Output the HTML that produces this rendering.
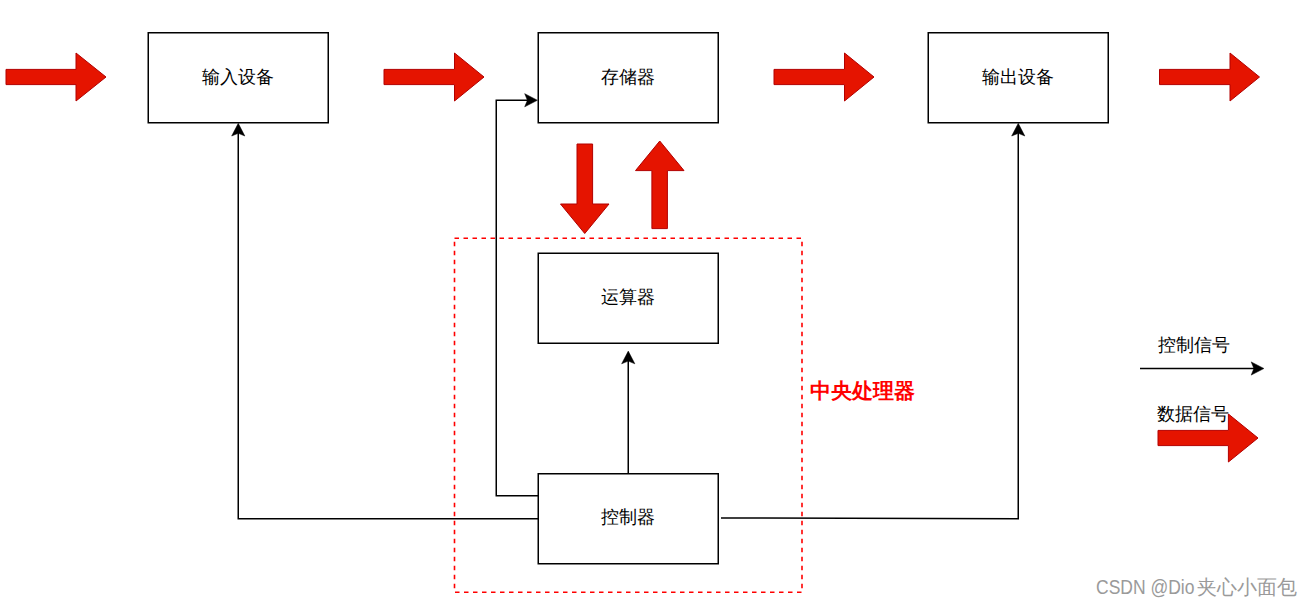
<!DOCTYPE html>
<html><head><meta charset="utf-8"><style>
html,body{margin:0;padding:0;background:#fff;}
body{width:1312px;height:606px;position:relative;overflow:hidden;font-family:"Liberation Sans",sans-serif;}
svg.ov{position:absolute;left:0;top:0;}
.t{position:absolute;width:300px;height:30px;line-height:30px;text-align:center;font-size:18px;color:#000;white-space:nowrap;}
.wm{position:absolute;white-space:nowrap;color:#9a9a9a;height:26px;}
.wl{display:inline-block;font-size:20px;line-height:26px;transform:scaleX(0.875);transform-origin:0 50%;width:101px;}
.wc{display:inline-block;font-size:20px;line-height:26px;}
.lab{position:absolute;font-size:18px;line-height:20px;white-space:nowrap;}
</style></head><body>
<svg class="ov" width="1312" height="606" viewBox="0 0 1312 606">
<g fill="#E51400" stroke="#B20000" stroke-width="1">
<polygon points="6,69.4 76,69.4 76,53 106,77.0 76,101 76,84.6 6,84.6" />
<polygon points="384,69.4 454.5,69.4 454.5,53 484,77.0 454.5,101 454.5,84.6 384,84.6" />
<polygon points="774,69.4 844.5,69.4 844.5,53 874,77.0 844.5,101 844.5,84.6 774,84.6" />
<polygon points="1159.5,69.4 1230,69.4 1230,53 1259.5,77.0 1230,101 1230,84.6 1159.5,84.6" />
</g>
<g fill="#fff" stroke="#000" stroke-width="1.5">
<rect x="148.25" y="32.75" width="180" height="90" />
<rect x="538.25" y="32.75" width="180" height="90" />
<rect x="928.25" y="32.75" width="180" height="90" />
<rect x="538.25" y="253.25" width="180" height="90" />
<rect x="538.25" y="473.75" width="180" height="90" />
</g>
<rect x="454.5" y="238.25" width="347.5" height="354" fill="none" stroke="#FF0000" stroke-width="1.6" stroke-dasharray="4.5 4.5" />
<g fill="none" stroke="#000" stroke-width="1.5">
<polyline points="538,518.75 238.25,518.75 238.25,133" />
<polyline points="538,495.85 496.25,495.85 496.25,100.25 528,100.25" />
<polyline points="628.25,473.5 628.25,361" />
<polyline points="721,518 1018.25,518.75 1018.25,133" />
<polyline points="1140,368.5 1254,368.5" />
</g>
<g fill="#000" stroke="#000" stroke-width="0.5" stroke-linejoin="miter">
<polygon points="238.25,123.3 244.85,136.0 238.25,133.3 231.65,136.0" />
<polygon points="1018.25,123.3 1024.85,136.0 1018.25,133.3 1011.65,136.0" />
<polygon points="628.25,351.1 634.85,363.8 628.25,361.1 621.65,363.8" />
<polygon points="537.4,100.25 524.6999999999999,106.85 527.4,100.25 524.6999999999999,93.65" />
<polygon points="1263.9,368.5 1251.2,375.1 1253.9,368.5 1251.2,361.9" />
</g>
<g fill="#E51400" stroke="#B20000" stroke-width="1">
<polygon points="577,144 592.6,144 592.6,204 609,204 584.75,233.5 560.5,204 577,204" />
<polygon points="651.9,228.6 667.4,228.6 667.4,170.6 684,170.6 659.75,141 635.5,170.6 651.9,170.6" />
</g>
</svg>
<div class="t" style="left:88px;top:61.5px;">输入设备</div>
<div class="t" style="left:478px;top:61.5px;">存储器</div>
<div class="t" style="left:868px;top:61.5px;">输出设备</div>
<div class="t" style="left:478px;top:281.6px;">运算器</div>
<div class="t" style="left:478px;top:502px;">控制器</div>
<div class="lab" style="left:810.3px;top:380.3px;color:#FF0000;font-weight:900;font-size:21px;line-height:22px;">中央处理器</div>
<div class="lab" style="left:1157.5px;top:335px;">控制信号</div>
<div class="lab" style="left:1157px;top:404px;">数据信号</div>
<svg class="ov" width="1312" height="606"><g fill="#E51400" stroke="#B20000" stroke-width="1"><polygon points="1158,430.4 1228.4,430.4 1228.4,414 1258,438.0 1228.4,462 1228.4,445.6 1158,445.6" /></g></svg>
<div class="wm" style="left:1096px;top:574px;"><span class="wl">CSDN @Dio</span><span class="wc">夹心小面包</span></div>
</body></html>
